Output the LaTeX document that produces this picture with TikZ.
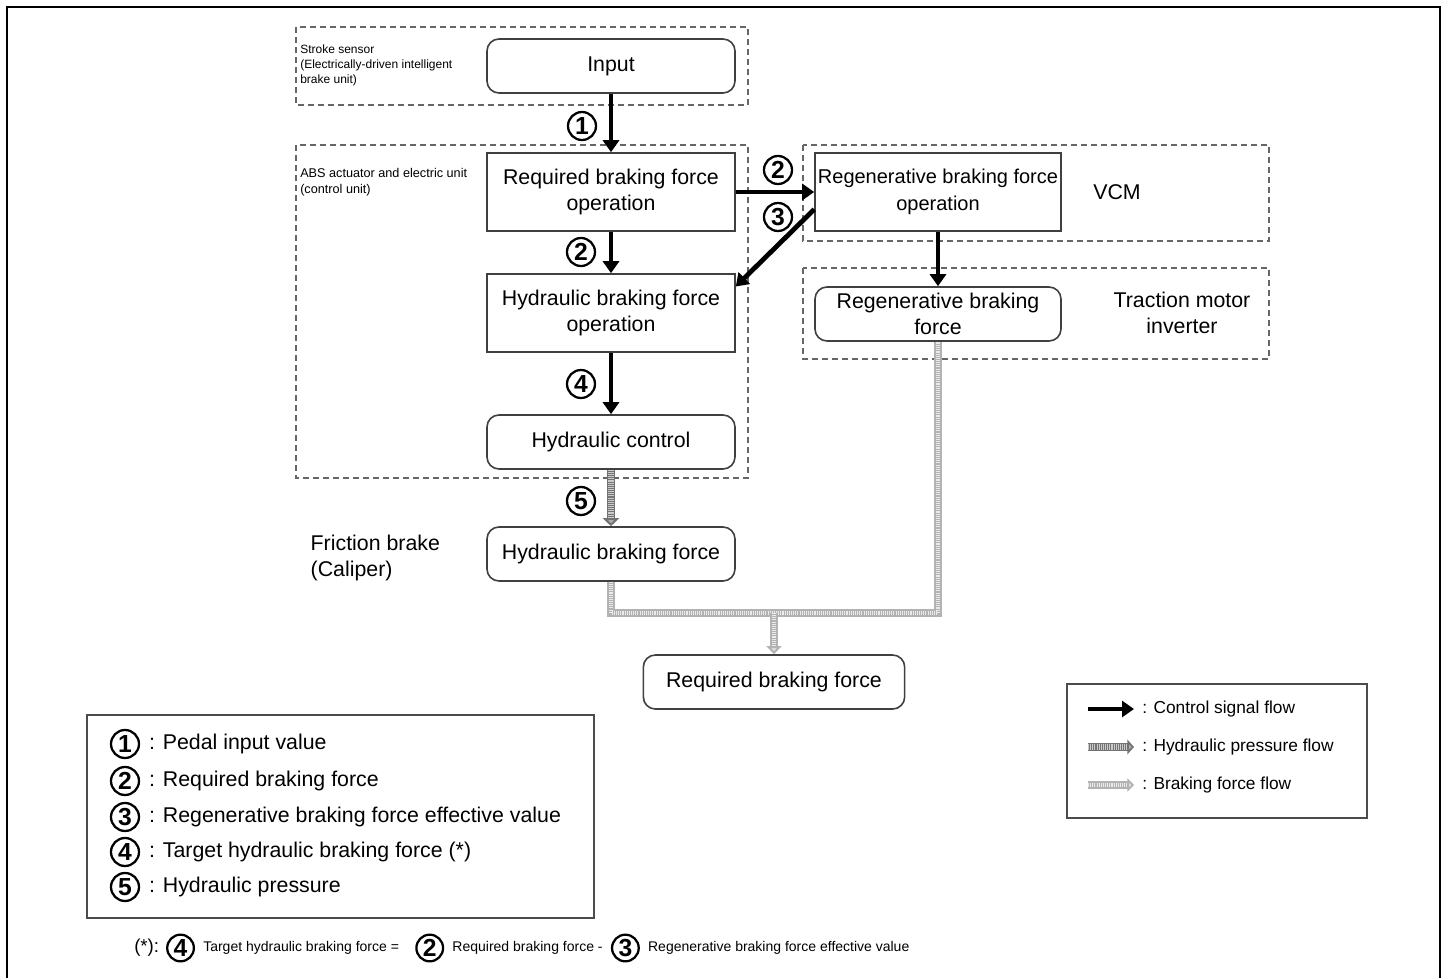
\documentclass[tikz,border=0pt]{standalone}
\usepackage{fontspec}
\setmainfont{Liberation Sans}
\usetikzlibrary{arrows.meta, positioning}

\tikzset{
  grp/.style={draw=black!60, line width=1.1pt, dash pattern=on 4.5pt off 3pt},
  opbox/.style={draw=black!75, line width=1.2pt, minimum width=186pt, minimum height=58.5pt,
    align=center, inner sep=1pt, font=\fontsize{16}{20}\selectfont},
  valbox/.style={opbox, rounded corners=9pt, minimum height=40.5pt},
  cnum/.style={circle, draw, line width=1.7pt, minimum size=21pt, inner sep=0pt,
    font=\fontsize{18.5}{18.5}\selectfont\bfseries},
  ctrl/.style={-{Triangle[length=9pt,width=12pt]}, line width=3.6pt},
  hyd/.style={draw=black!55, line width=6.5pt,
    postaction={draw=white!80!black, line width=4pt, dash pattern=on 0.8pt off 0.8pt, -, shorten >=#1}},
  hyd/.default=0pt,
  brk/.style={draw=black!30, line width=5.5pt,
    postaction={draw=white!92!black, line width=3.5pt, dash pattern=on 0.8pt off 0.8pt, -, shorten >=#1}},
  brk/.default=0pt,
  grplabel/.style={align=left, anchor=north west, inner sep=0pt},
  legtxt/.style={anchor=west, inner sep=0pt, font=\fontsize{13}{15}\selectfont},
  keytxt/.style={inner sep=0pt, font=\fontsize{16}{18}\selectfont},
  fntxt/.style={inner sep=0pt, font=\fontsize{10.5}{12}\selectfont},
}

\begin{document}
\begin{tikzpicture}[x=0.75pt, y=-0.75pt]
  \useasboundingbox (0,0) rectangle (1446,978);

  % outer frame
  \draw[line width=1.8pt] (7,978) -- (7,7) -- (1440,7) -- (1440,978);

  % dashed unit groups
  \draw[grp] (296,27) rectangle (748,105);
  \draw[grp] (296,145) rectangle (748,478);
  \draw[grp] (803,145) rectangle (1269,241);
  \draw[grp] (803,268) rectangle (1269,359);

  % group labels
  \node[grplabel, font=\fontsize{9}{11}\selectfont] (lstroke) at (300,45)
    {Stroke sensor\\(Electrically-driven intelligent\\brake unit)};
  \node[grplabel, font=\fontsize{9.5}{12}\selectfont] (labs) at (300,168)
    {ABS actuator and electric unit\\(control unit)};
  \node[font=\fontsize{16}{20}\selectfont] (lvcm) at (1117,192) {VCM};
  \node[align=center, font=\fontsize{16}{20}\selectfont] (ltmi) at (1182,313) {Traction motor\\inverter};
  \node[align=left, anchor=west, font=\fontsize{16}{20}\selectfont] (lfric) at (306,558) {Friction brake\\(Caliper)};

  % boxes
  \node[valbox] (input) at (611,66) {Input};
  \node[opbox] (reqop) at (611,192) {Required braking force\\operation};
  \node[opbox] (hydop) at (611,313) {Hydraulic braking force\\operation};
  \node[valbox] (hydctl) at (611,442) {Hydraulic control};
  \node[valbox] (hydbf) at (611,554) {Hydraulic braking force};
  \node[opbox, minimum width=184.5pt, font=\fontsize{15}{20}\selectfont] (regop) at (938,192)
    {Regenerative braking force\\operation};
  \node[valbox, minimum width=184.5pt] (regbf) at (938,314) {Regenerative braking\\force};
  \node[valbox, minimum width=196pt] (reqbf) at (774,682) {Required braking force};

  % numbers on the flows
  \node[cnum] (n1) at (582,126) {1};
  \node[cnum] (n2a) at (581,252) {2};
  \node[cnum] (n4) at (581,384) {4};
  \node[cnum] (n5) at (581,501) {5};
  \node[cnum] (n2b) at (778,170) {2};
  \node[cnum] (n3) at (778,217) {3};

  % control signal flow
  \draw[ctrl] (input) -- (reqop);
  \draw[ctrl] (reqop) -- (hydop);
  \draw[ctrl] (hydop) -- (hydctl);
  \draw[ctrl] (reqop) -- (regop);
  \draw[ctrl] (regop.188) -- (hydop.12);
  \draw[ctrl] (regop) -- (regbf);

  % hydraulic pressure flow
  \draw[hyd=6pt, -{Triangle[length=6pt,width=12pt,fill=black!30]}] (hydctl) -- (hydbf);

  % braking force flow
  \coordinate (merge) at (774,613);
  \draw[brk] (hydbf.south) |- (merge) -| (regbf.south);
  \draw[brk=6pt, -{Triangle[length=6pt,width=11pt,fill=black!12]}] (merge) -- (reqbf);

  % legend of flows
  \draw[line width=1.1pt, draw=black!70] (1067,684) rectangle (1367,818);
  \node[legtxt] (lg1) at (1142,709) {: Control signal flow};
  \node[legtxt] (lg2) at (1142,747) {: Hydraulic pressure flow};
  \node[legtxt] (lg3) at (1142,785) {: Braking force flow};
  \coordinate (a1) at (1088,709);
  \coordinate (a2) at (1088,747);
  \coordinate (a3) at (1088,785);
  \draw[ctrl, line width=3pt] (a1) -- ([xshift=-6pt]lg1.west);
  \draw[hyd=5pt, -{Triangle[length=5pt,width=11pt,fill=black!30]}] (a2) -- ([xshift=-6pt]lg2.west);
  \draw[brk=5pt, -{Triangle[length=5pt,width=10pt,fill=black!12]}] (a3) -- ([xshift=-6pt]lg3.west);

  % legend of numbers
  \draw[line width=1.1pt, draw=black!70] (87,715) rectangle (594,918);
  \node[cnum] (k1) at (125,744) {1};
  \node[keytxt, right=6.5pt of k1] (t1) {: Pedal input value};
  \node[cnum] (k2) at (125,781) {2};
  \node[keytxt, right=6.5pt of k2] (t2) {: Required braking force};
  \node[cnum] (k3) at (125,817) {3};
  \node[keytxt, right=6.5pt of k3] (t3) {: Regenerative braking force effective value};
  \node[cnum] (k4) at (125,852) {4};
  \node[keytxt, right=6.5pt of k4] (t4) {: Target hydraulic braking force (*)};
  \node[cnum] (k5) at (125,887) {5};
  \node[keytxt, right=6.5pt of k5] (t5) {: Hydraulic pressure};

  % footnote
  \node[inner sep=0pt, anchor=west, font=\fontsize{14}{14}\selectfont] (fstar) at (134,948) {(*):};
  \node[cnum, minimum size=20pt, right=5pt of fstar] (f4) {4};
  \node[fntxt, right=6pt of f4] (ft4) {Target hydraulic braking force =};
  \node[cnum, minimum size=20pt, right=12pt of ft4] (f2) {2};
  \node[fntxt, right=6pt of f2] (ft2) {Required braking force -};
  \node[cnum, minimum size=20pt, right=6pt of ft2] (f3) {3};
  \node[fntxt, right=6pt of f3] (ft3) {Regenerative braking force effective value};

\end{tikzpicture}
\end{document}
